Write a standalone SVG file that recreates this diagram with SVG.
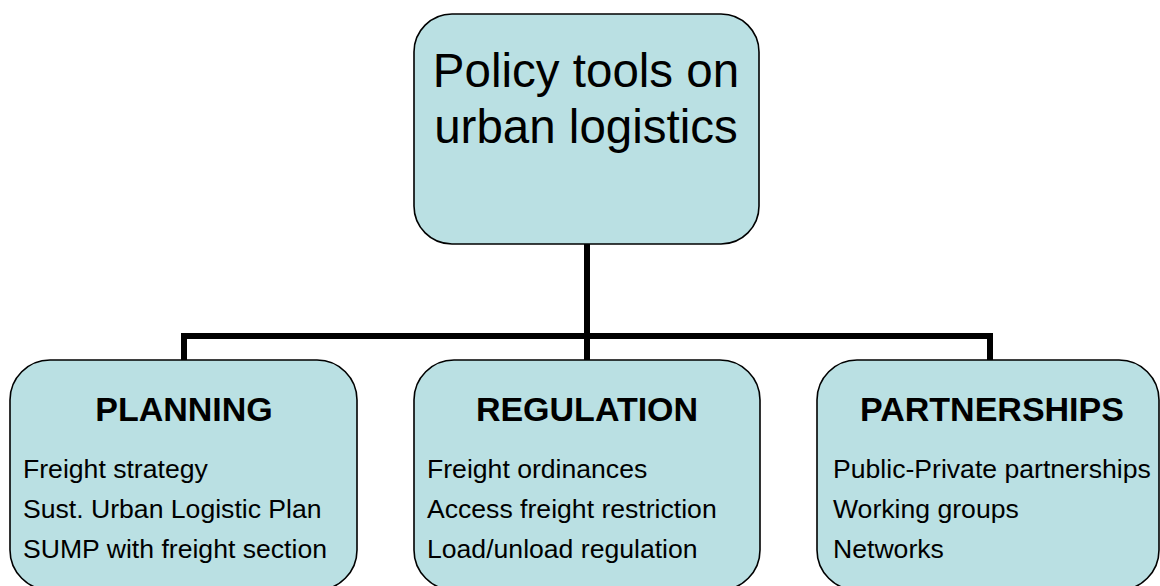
<svg xmlns="http://www.w3.org/2000/svg" width="1160" height="586" viewBox="0 0 1160 586">
  <style>
    .box { fill: #bae0e3; stroke: #000; stroke-width: 1.6; }
    .conn { fill: none; stroke: #000; stroke-width: 6; stroke-linejoin: miter; }
    .title { font-family: "Liberation Sans", Arial, sans-serif; font-size: 47.5px; fill: #000; text-anchor: middle; }
    .head { font-family: "Liberation Sans", Arial, sans-serif; font-size: 34px; font-weight: bold; fill: #000; text-anchor: middle; }
    .item { font-family: "Liberation Sans", Arial, sans-serif; font-size: 26.6px; fill: #000; }
  </style>
  <rect width="1160" height="586" fill="#fff"/>

  <!-- tree connectors -->
  <g id="connectors">
    <path class="conn" d="M587 244 V360"/>
    <path class="conn" d="M184 360 V336 H990 V360"/>
  </g>

  <g id="root">
    <rect class="box" x="414" y="14" width="345" height="230" rx="38" ry="38"/>
    <text class="title" x="586" y="87">Policy tools on</text>
    <text class="title" x="586" y="143">urban logistics</text>
  </g>

  <g id="planning">
    <rect class="box" x="10" y="360" width="347" height="230" rx="40" ry="40"/>
    <text class="head" x="184" y="421">PLANNING</text>
    <text class="item" x="23" y="478">Freight strategy</text>
    <text class="item" x="23" y="518">Sust. Urban Logistic Plan</text>
    <text class="item" x="23" y="558">SUMP with freight section</text>
  </g>

  <g id="regulation">
    <rect class="box" x="414" y="360" width="346" height="230" rx="40" ry="40"/>
    <text class="head" x="587" y="421">REGULATION</text>
    <text class="item" x="427" y="478">Freight ordinances</text>
    <text class="item" x="427" y="518">Access freight restriction</text>
    <text class="item" x="427" y="558">Load/unload regulation</text>
  </g>

  <g id="partnerships">
    <rect class="box" x="817" y="360" width="342" height="230" rx="40" ry="40"/>
    <text class="head" x="992" y="421">PARTNERSHIPS</text>
    <text class="item" x="833" y="478">Public-Private partnerships</text>
    <text class="item" x="833" y="518">Working groups</text>
    <text class="item" x="833" y="558">Networks</text>
  </g>
</svg>
